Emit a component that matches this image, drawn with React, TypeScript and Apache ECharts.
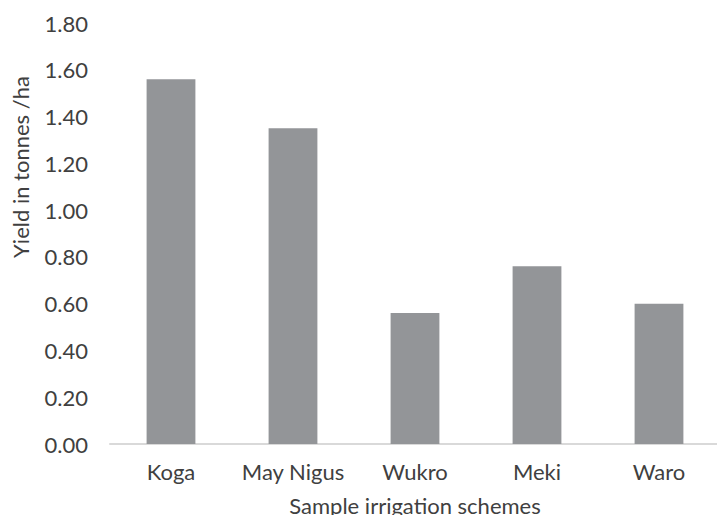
import React, { useEffect, useRef } from "react";
import * as echarts from "echarts";

const categories = ["Koga", "May Nigus", "Wukro", "Meki", "Waro"];
const yieldValues = [1.56, 1.35, 0.56, 0.76, 0.6];
const yTitle = "Yield in tonnes /ha";
const xTitle = "Sample irrigation schemes";

const FONT = "Lato, 'Open Sans', sans-serif";

export default function App() {
  const ref = useRef<HTMLDivElement>(null);
  useEffect(() => {
    const chart = echarts.init(ref.current!, null, { renderer: "svg" });
    chart.setOption({
      animation: false,
      backgroundColor: "#ffffff",
      grid: {
        left: 110,
        right: -3,
        top: 23,
        bottom: 71,
        containLabel: false,
        outerBoundsMode: "none",
      },
      xAxis: {
        type: "category",
        data: categories,
        axisLine: { lineStyle: { color: "#d9d9d9", width: 2 } },
        axisTick: { show: false },
        axisLabel: {
          color: "#404040",
          fontSize: 22,
          fontFamily: FONT,
          margin: 16,
          interval: 0,
          hideOverlap: false,
        },
        name: xTitle,
        nameLocation: "middle",
        nameGap: 50,
        nameMoveOverlap: false,
        nameTextStyle: { color: "#404040", fontSize: 22, fontFamily: FONT },
      },
      yAxis: {
        type: "value",
        min: 0,
        max: 1.8,
        interval: 0.2,
        splitLine: { show: false },
        axisLine: { show: false },
        axisTick: { show: false },
        axisLabel: {
          color: "#404040",
          fontSize: 22,
          fontFamily: FONT,
          margin: 22,
          formatter: (v: number) => v.toFixed(2),
        },
      },
      graphic: [
        {
          type: "text",
          x: 20,
          y: 167,
          rotation: Math.PI / 2,
          style: {
            text: yTitle,
            fill: "#404040",
            fontSize: 22,
            fontFamily: FONT,
            align: "center",
            verticalAlign: "middle",
          },
        },
      ],
      series: [
        {
          type: "bar",
          data: yieldValues,
          barWidth: "40%",
          itemStyle: { color: "#939598" },
        },
      ],
    });
    return () => chart.dispose();
  }, []);
  return (
    <div
      ref={ref}
      style={{ position: "fixed", left: 0, top: 0, width: 717, height: 515 }}
    />
  );
}
